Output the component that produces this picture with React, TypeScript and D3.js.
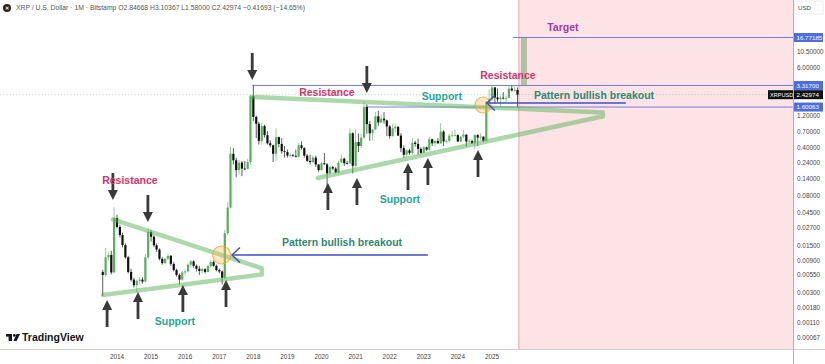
import React from 'react';
import * as d3 from 'd3';

// ---------- DATA ----------
const firstMonth = '2013-08-01';
const opens = [
  0.0061, 0.0055, 0.0100, 0.0108, 0.0060,
  0.0377, 0.0278, 0.0212, 0.0151, 0.0100, 0.0061, 0.0047, 0.0039, 0.0045, 0.0047, 0.0044, 0.0100,
  0.0235, 0.0200, 0.0150, 0.0130, 0.0095, 0.0082, 0.0095, 0.0105, 0.0080, 0.0065, 0.0055, 0.0047,
  0.0060, 0.0062, 0.0078, 0.0087, 0.0075, 0.0068, 0.0063, 0.0067, 0.0061, 0.0074, 0.0085, 0.0075,
  0.0065, 0.0062, 0.0050, 0.0226, 0.0535, 0.33, 0.265, 0.19, 0.245, 0.20, 0.198, 0.25,
  2.30, 1.15, 0.91, 0.51, 0.84, 0.62, 0.47, 0.44, 0.33, 0.58, 0.46, 0.36,
  0.35, 0.31, 0.313, 0.308, 0.30, 0.44, 0.40, 0.31, 0.26, 0.25, 0.29, 0.23,
  0.19, 0.24, 0.231, 0.17, 0.21, 0.20, 0.175, 0.245, 0.28, 0.24, 0.239, 0.66,
  0.22, 0.49, 0.43, 0.57, 1.60, 0.90, 0.66, 0.75, 1.17, 0.95, 1.08, 1.02,
  0.83, 0.60, 0.78, 0.82, 0.61, 0.40, 0.32, 0.37, 0.34, 0.48, 0.46, 0.39,
  0.34, 0.41, 0.38, 0.54, 0.47, 0.51, 0.47, 0.70, 0.50, 0.51, 0.61, 0.615,
  0.62, 0.50, 0.59, 0.63, 0.50, 0.51, 0.47, 0.62, 0.57, 0.59, 0.51, 1.91,
  2.08, 3.10, 2.21, 2.08, 2.19, 2.17, 2.18, 2.98, 2.81, 2.84668,
];
const highs = [
  0.0065, 0.0137, 0.0118, 0.0125, 0.0540,
  0.0420, 0.0300, 0.0230, 0.0160, 0.0105, 0.0068, 0.0050, 0.0047, 0.0052, 0.0051, 0.0112, 0.0265,
  0.0250, 0.0210, 0.0160, 0.0135, 0.0100, 0.0098, 0.0112, 0.0108, 0.0085, 0.0068, 0.0058, 0.0063,
  0.0066, 0.0082, 0.0092, 0.0090, 0.0078, 0.0075, 0.0070, 0.0069, 0.0078, 0.0092, 0.0090, 0.0078,
  0.0068, 0.0064, 0.0250, 0.0650, 0.42, 0.40, 0.29, 0.27, 0.26, 0.26, 0.28, 2.45,
  3.317, 1.20, 0.97, 0.95, 0.88, 0.71, 0.52, 0.45, 0.78, 0.59, 0.56, 0.43,
  0.38, 0.34, 0.33, 0.38, 0.48, 0.50, 0.41, 0.33, 0.32, 0.31, 0.31, 0.23,
  0.25, 0.34, 0.24, 0.22, 0.22, 0.21, 0.26, 0.32, 0.29, 0.26, 0.78, 0.68,
  0.75, 0.65, 0.65, 1.96, 1.76, 1.00, 0.76, 1.35, 1.41, 1.23, 1.35, 1.05,
  0.87, 0.91, 0.91, 0.84, 0.66, 0.44, 0.39, 0.39, 0.56, 0.51, 0.55, 0.41,
  0.43, 0.42, 0.59, 0.55, 0.53, 0.56, 0.93, 0.73, 0.54, 0.64, 0.71, 0.74,
  0.64, 0.60, 0.74, 0.64, 0.55, 0.53, 0.64, 0.64, 0.66, 0.59, 1.95, 2.90,
  3.25, 3.15, 3.00, 2.35, 2.65, 2.34, 3.35, 3.30, 3.18, 3.10367,
];
const lows = [
  0.0027, 0.0052, 0.0090, 0.0056, 0.0058,
  0.0265, 0.0195, 0.0140, 0.0095, 0.0058, 0.0044, 0.0036, 0.0031, 0.0040, 0.0041, 0.0043, 0.0095,
  0.0170, 0.0140, 0.0120, 0.0090, 0.0078, 0.0080, 0.0090, 0.0075, 0.0062, 0.0052, 0.0040, 0.0045,
  0.0054, 0.0060, 0.0072, 0.0070, 0.0062, 0.0055, 0.0058, 0.0058, 0.0060, 0.0070, 0.0073, 0.0062,
  0.0058, 0.0040, 0.0048, 0.0210, 0.052, 0.23, 0.15, 0.165, 0.155, 0.19, 0.195, 0.23,
  1.00, 0.56, 0.45, 0.45, 0.57, 0.45, 0.41, 0.25, 0.26, 0.41, 0.33, 0.29,
  0.29, 0.29, 0.30, 0.29, 0.29, 0.38, 0.29, 0.25, 0.23, 0.24, 0.21, 0.18,
  0.19, 0.23, 0.11, 0.17, 0.19, 0.17, 0.17, 0.25, 0.22, 0.23, 0.23, 0.17,
  0.21, 0.35, 0.40, 0.55, 0.65, 0.51, 0.52, 0.73, 0.85, 0.93, 0.91, 0.60,
  0.55, 0.59, 0.68, 0.60, 0.35, 0.29, 0.30, 0.32, 0.32, 0.42, 0.32, 0.33,
  0.34, 0.36, 0.36, 0.43, 0.42, 0.46, 0.46, 0.43, 0.47, 0.48, 0.58, 0.59,
  0.49, 0.49, 0.56, 0.42, 0.47, 0.46, 0.38, 0.43, 0.52, 0.49, 0.50, 1.77,
  1.96, 1.77, 1.90, 1.61, 2.07, 1.90, 2.17, 2.70, 2.69, 1.58,
];
const closes = [
  0.0055, 0.0100, 0.0108, 0.0060, 0.0377,
  0.0278, 0.0212, 0.0151, 0.0100, 0.0061, 0.0047, 0.0039, 0.0045, 0.0047, 0.0044, 0.0100, 0.0235,
  0.0200, 0.0150, 0.0130, 0.0095, 0.0082, 0.0095, 0.0105, 0.0080, 0.0065, 0.0055, 0.0047, 0.0060,
  0.0062, 0.0078, 0.0087, 0.0075, 0.0068, 0.0063, 0.0067, 0.0061, 0.0074, 0.0085, 0.0075, 0.0065,
  0.0062, 0.0050, 0.0226, 0.0535, 0.33, 0.265, 0.19, 0.245, 0.20, 0.198, 0.25, 2.30,
  1.15, 0.91, 0.51, 0.84, 0.62, 0.47, 0.44, 0.33, 0.58, 0.46, 0.36, 0.35,
  0.31, 0.313, 0.308, 0.30, 0.44, 0.40, 0.31, 0.26, 0.25, 0.29, 0.23, 0.19,
  0.24, 0.231, 0.17, 0.21, 0.20, 0.175, 0.245, 0.28, 0.24, 0.239, 0.66, 0.22,
  0.49, 0.43, 0.57, 1.60, 0.90, 0.66, 0.75, 1.17, 0.95, 1.08, 1.02, 0.83,
  0.60, 0.78, 0.82, 0.61, 0.40, 0.32, 0.37, 0.34, 0.48, 0.46, 0.39, 0.34,
  0.41, 0.38, 0.54, 0.47, 0.51, 0.47, 0.70, 0.50, 0.51, 0.61, 0.615, 0.62,
  0.50, 0.59, 0.63, 0.50, 0.51, 0.47, 0.62, 0.57, 0.59, 0.51, 1.91, 2.08,
  3.10, 2.21, 2.08, 2.19, 2.17, 2.18, 2.98, 2.81, 2.84668, 2.42974,
];

const yearTicks = [2014, 2015, 2016, 2017, 2018, 2019, 2020, 2021, 2022, 2023, 2024, 2025];
const priceTicks = [10.5, 6, 1.2, 0.7, 0.4, 0.24, 0.14, 0.08, 0.045, 0.027, 0.015, 0.009, 0.0055, 0.003, 0.0018, 0.0011, 0.00067];
const levelPrices = [16.77185, 3.317, 1.60063];
const levelStarts = ['2025-08-15', '2017-12-20', '2021-04-20'];
const lastPrice = 2.42974;
const forecastStart = '2025-10-16';

// annotation anchors in data space [date, price]
const leftTriangle: [string, number][] = [['2013-11-18', 0.036], ['2018-04-02', 0.0069], ['2018-04-02', 0.0056], ['2013-08-04', 0.0028]];
const bigTriangle: [string, number][] = [['2017-12-16', 2.25], ['2028-04-03', 1.33], ['2028-04-03', 1.17], ['2019-11-23', 0.1456]];
const targetBar: [string, number][] = [['2025-12-10', 16.77185], ['2025-12-10', 3.317]];
const breakoutArrows: [string, string, number][] = [['2017-05-17', '2023-02-14', 0.0108], ['2024-11-07', '2028-12-05', 1.834]];
const breakoutCircles: [string, number, number][] = [['2017-01-26', 0.0108, 9], ['2024-09-27', 1.715, 8]];
const downArrows: [string, number][] = [['2013-11-18', 0.069], ['2014-11-28', 0.0329], ['2017-12-20', 3.99], ['2021-05-01', 2.57]];
const upArrows: [string, number][] = [['2013-09-17', 0.00236], ['2014-08-14', 0.00309], ['2015-12-08', 0.00393], ['2017-03-14', 0.00464], ['2020-03-10', 0.1229], ['2021-01-15', 0.1456], ['2022-07-16', 0.2417], ['2023-02-14', 0.2868], ['2024-08-04', 0.375]];
const labels: [string, string, number, string, string][] = [
  ['Resistance', '2014-05-19', 0.136, '#d9336e', 'middle'],
  ['Support', '2015-09-13', 0.00116, '#26a69a', 'middle'],
  ['Pattern bullish breakout', '2018-11-03', 0.0167, '#2d8a72', 'start'],
  ['Resistance', '2020-02-28', 2.66, '#d9336e', 'middle'],
  ['Support', '2022-04-20', 0.0717, '#26a69a', 'middle'],
  ['Support', '2023-07-13', 2.325, '#26a69a', 'middle'],
  ['Resistance', '2025-06-21', 4.74, '#d9336e', 'middle'],
  ['Pattern bullish breakout', '2026-03-26', 2.40, '#2d8a72', 'start'],
  ['Target', '2027-01-30', 23.9, '#a03ca3', 'middle'],
];

// ---------- SCALES ----------
const W = 825, H = 364;
const axisX = 793, axisY = 349;
const d = (s: string) => new Date(s + 'T00:00:00Z');
const x = d3.scaleUtc().domain([d('2014-01-01'), d('2025-01-01')]).range([117, 492]);
const y = d3.scaleLog().domain([0.00067, 16.77185]).range([337.3, 37.5]);
const monthDates = d3.utcMonth.range(d(firstMonth), d3.utcMonth.offset(d(firstMonth), closes.length));

const font = '"Liberation Sans", Arial, sans-serif';
const fmt = d3.format('.5f');

function arrowPath(tx: number, ty: number, dir: number) {
  // dir = 1: pointing down (tip at bottom), -1: pointing up
  const p = [[0, 0], [-5, -10], [-1.4, -10], [-1.4, -27], [1.4, -27], [1.4, -10], [5, -10]];
  return 'M' + p.map(([a, b]) => `${tx + a},${ty + b * dir}`).join('L') + 'Z';
}

export default function App() {
  const line = d3.line<[string, number]>().x((p) => x(d(p[0]))).y((p) => y(p[1]));
  return (
    <svg width={W} height={H} style={{ position: 'absolute', left: 0, top: 0, background: '#fff' }} fontFamily={font}>
      {/* forecast zone */}
      <rect x={x(d(forecastStart))} y={0} width={axisX - x(d(forecastStart))} height={axisY} fill="#fde3e5" />
      <line x1={x(d(forecastStart))} x2={x(d(forecastStart))} y1={0} y2={axisY} stroke="#e88f98" strokeWidth={0.8} />
      {/* last price dotted line */}
      <line x1={0} x2={axisX} y1={y(lastPrice)} y2={y(lastPrice)} stroke="#b9b9b9" strokeWidth={0.7} strokeDasharray="1.2,2" />
      {/* horizontal levels */}
      {levelPrices.map((p, i) => (
        <line key={i} x1={x(d(levelStarts[i]))} x2={axisX} y1={y(p)} y2={y(p)} stroke="#6f7ee3" strokeWidth={1} />
      ))}
      {/* candles */}
      {monthDates.map((md, i) => {
        const cx = x(md);
        const up = closes[i] >= opens[i];
        const col = up ? '#55b258' : '#111';
        const top = y(Math.max(opens[i], closes[i]));
        const bot = y(Math.min(opens[i], closes[i]));
        return (
          <g key={i}>
            <line x1={cx} x2={cx} y1={y(highs[i])} y2={y(lows[i])} stroke={up ? '#78c27a' : '#333'} strokeWidth={0.8} />
            <rect x={cx - 1.1} y={top} width={2.2} height={Math.max(0.8, bot - top)} fill={col} />
          </g>
        );
      })}
      {/* triangles */}
      <path d={line(leftTriangle) || ''} fill="none" stroke="rgba(90,180,90,0.5)" strokeWidth={4.5} strokeLinejoin="round" strokeLinecap="round" />
      <path d={line(bigTriangle) || ''} fill="none" stroke="rgba(90,180,90,0.5)" strokeWidth={4.5} strokeLinejoin="round" strokeLinecap="round" />
      <path d={line(targetBar) || ''} fill="none" stroke="rgba(110,170,100,0.55)" strokeWidth={6} />
      {/* breakout circles */}
      {breakoutCircles.map(([dt, p, r], i) => (
        <circle key={i} cx={x(d(dt))} cy={y(p)} r={r} fill="rgba(255,185,80,0.35)" stroke="rgba(240,160,40,0.75)" strokeWidth={1.1} />
      ))}
      {/* breakout arrows */}
      {breakoutArrows.map(([d0, d1, p], i) => {
        const tx = x(d(d0)), ty = y(p), ex = x(d(d1));
        return (
          <g key={i} stroke="#3f51c4" strokeWidth={1.3} fill="none">
            <line x1={tx} x2={ex} y1={ty} y2={ty} />
            <path d={`M${tx + 8},${ty - 7.5}L${tx},${ty}L${tx + 8},${ty + 7.5}`} strokeWidth={1.5} />
          </g>
        );
      })}
      {/* black arrows */}
      {downArrows.map(([dt, p], i) => (
        <path key={'d' + i} d={arrowPath(x(d(dt)), y(p), 1)} fill="#3a3a3a" />
      ))}
      {upArrows.map(([dt, p], i) => (
        <path key={'u' + i} d={arrowPath(x(d(dt)), y(p), -1)} fill="#3a3a3a" />
      ))}
      {/* labels */}
      {labels.map(([t, dt, p, c, a], i) => (
        <text key={i} x={x(d(dt))} y={y(p)} dy="0.35em" fill={c} textAnchor={a as any} fontSize={10.5} fontWeight="bold">{t}</text>
      ))}
      {/* header */}
      <circle cx={7} cy={8} r={4} fill="#222" />
      <text x={7} y={8} dy="0.35em" fontSize={5} fill="#fff" textAnchor="middle" fontWeight="bold">✕</text>
      <text x={16} y={8} dy="0.35em" fontSize={6.8} fill="#555">XRP / U.S. Dollar · 1M · Bitstamp  O2.84668 H3.10367 L1.58000 C2.42974 −0.41693 (−14.65%)</text>
      {/* TradingView logo */}
      <g fill="#131722">
        <rect x={6} y={334} width={6} height={2.6} />
        <rect x={8.6} y={334} width={3.4} height={7} />
        <circle cx={14.3} cy={335.4} r={1.4} />
        <path d="M16.6,334 L20,334 L16.6,341 L13.4,341 Z" />
      </g>
      <text x={22} y={341} fontSize={10.5} fill="#131722" fontWeight="bold">TradingView</text>
      {/* axes */}
      <line x1={0} x2={W} y1={axisY + 0.5} y2={axisY + 0.5} stroke="#d0d0d0" strokeWidth={1} />
      <line x1={axisX + 0.5} x2={axisX + 0.5} y1={0} y2={H} stroke="#b0b0b0" strokeWidth={1} />
      {yearTicks.map((yr) => (
        <text key={yr} x={x(d(`${yr}-01-01`))} y={357} dy="0.35em" fontSize={6.4} fill="#444" textAnchor="middle">{yr}</text>
      ))}
      {priceTicks.map((p) => (
        <text key={p} x={797} y={y(p)} dy="0.35em" fontSize={6.4} fill="#444">{fmt(p)}</text>
      ))}
      <rect x={795} y={1} width={28} height={13} fill="#fff" stroke="#e0e0e0" strokeWidth={0.6} />
      <text x={798} y={8} dy="0.35em" fontSize={6.2} fill="#444">USD</text>
      {levelPrices.map((p, i) => (
        <g key={i}>
          <rect x={794} y={y(p) - 4.5} width={29} height={9} fill="#4d6ee3" />
          <text x={796.5} y={y(p)} dy="0.35em" fontSize={6.2} fill="#fff">{fmt(p)}</text>
        </g>
      ))}
      <rect x={768} y={y(lastPrice) - 4.5} width={25} height={9} fill="#111" />
      <text x={770} y={y(lastPrice)} dy="0.35em" fontSize={5.6} fill="#fff">XRPUSD</text>
      <rect x={794} y={y(lastPrice) - 4.5} width={29} height={9} fill="#111" />
      <text x={796.5} y={y(lastPrice)} dy="0.35em" fontSize={6.2} fill="#fff">{fmt(lastPrice)}</text>
    </svg>
  );
}
